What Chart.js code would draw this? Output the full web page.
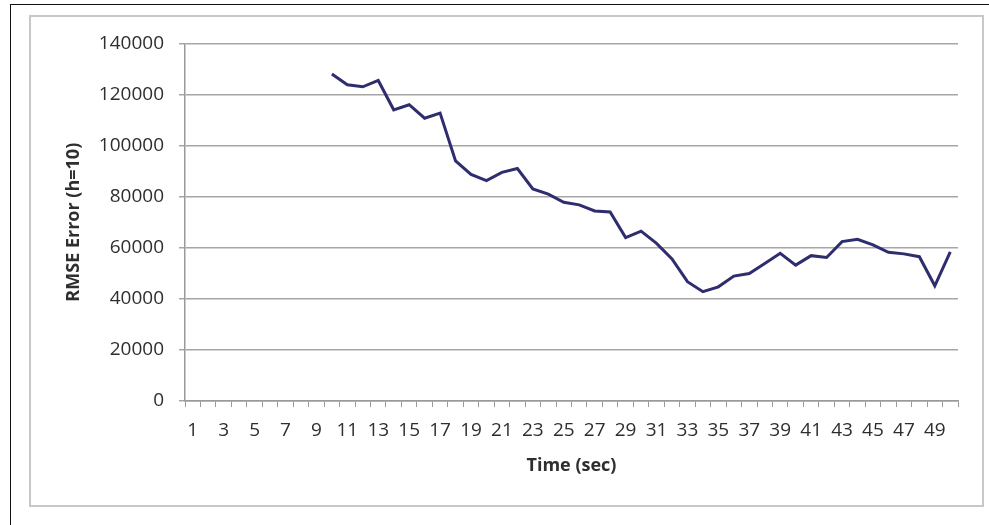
<!DOCTYPE html>
<html>
<head>
<meta charset="utf-8">
<script src="https://cdn.jsdelivr.net/npm/chart.js@4/dist/chart.umd.min.js"></script>
<style>
  html, body { margin: 0; padding: 0; background: #fff; }
  body { width: 989px; height: 525px; position: relative; overflow: hidden; }
  #outer { position: absolute; left: 10px; top: 4px; width: 1000px; height: 600px;
           border-left: 1.5px solid #111; border-top: 1.5px solid #111; }
  #frame { position: absolute; left: 29px; top: 15px; width: 951px; height: 488px;
           border: 2px solid #c8c8c8; background: #fff; }
  #frame canvas { display: block; }
</style>
</head>
<body>
<div id="outer"></div>
<div id="frame"><canvas id="lineChart" width="951" height="488"></canvas></div>
<script>
// Time steps 1..50 (sec)
const timeLabels = Array.from({ length: 50 }, (_, i) => String(i + 1));

// RMSE error (h=10), no values before t=10
const rmseValues = [
    null, null, null, null, null, null, null, null, null,
    128000, 123800, 123000, 125500, 114000, 116000, 110700, 112700, 94000, 88700,
    86300, 89500, 91000, 83000, 81000, 77800, 76800, 74400, 74000, 64000,
    66500, 61700, 55600, 46700, 42800, 44700, 48900, 49900, 53800, 57800,
    53200, 56900, 56200, 62400, 63300, 61100, 58200, 57600, 56500, 45100,
    58400
];

const yTicks = [0, 20000, 40000, 60000, 80000, 100000, 120000, 140000];

const tickFont = { family: "'Open Sans', sans-serif", size: 19 };
const titleFont = { family: "'Open Sans', sans-serif", size: 18, weight: 'bold' };

const ctx = document.getElementById('lineChart');
new Chart(ctx, {
    type: 'line',
    data: {
        labels: timeLabels,
        datasets: [{
            data: rmseValues,
            borderColor: '#2e2d6e',
            borderWidth: 3,
            pointRadius: 0,
            tension: 0,
            spanGaps: false
        }]
    },
    options: {
        responsive: false,
        animation: false,
        layout: { padding: { top: 25, right: 24, left: 0, bottom: 0 } },
        plugins: { legend: { display: false }, tooltip: { enabled: false } },
        scales: {
            x: {
                offset: true,
                grid: {
                    offset: true,
                    drawOnChartArea: false,
                    color: '#9a9a9a',
                    tickLength: 6,
                    lineWidth: 1
                },
                border: { color: '#9a9a9a', width: 1.5 },
                ticks: {
                    autoSkip: false,
                    maxRotation: 0,
                    padding: 12,
                    color: '#2e2e2e',
                    font: tickFont,
                    callback: function (value, index) {
                        return index % 2 === 0 ? this.getLabelForValue(value) : '';
                    }
                },
                title: {
                    display: true,
                    text: 'Time (sec)',
                    color: '#2e2e2e',
                    font: titleFont,
                    padding: { top: 0, bottom: 28 }
                },
                afterFit: (scale) => { scale.height = 104; }
            },
            y: {
                min: 0,
                max: 140000,
                afterBuildTicks: (scale) => { scale.ticks = yTicks.map(v => ({ value: v })); },
                grid: { color: '#a6a6a6', lineWidth: 1.5, tickLength: 6 },
                border: { color: '#9a9a9a', width: 1.5 },
                ticks: {
                    padding: 15,
                    color: '#2e2e2e',
                    font: tickFont,
                    callback: (value) => String(value)
                },
                title: {
                    display: true,
                    text: 'RMSE Error (h=10)',
                    color: '#2e2e2e',
                    font: titleFont,
                    padding: { top: 32, bottom: 0 }
                },
                afterFit: (scale) => { scale.width = 154; }
            }
        }
    }
});
</script>
</body>
</html>
